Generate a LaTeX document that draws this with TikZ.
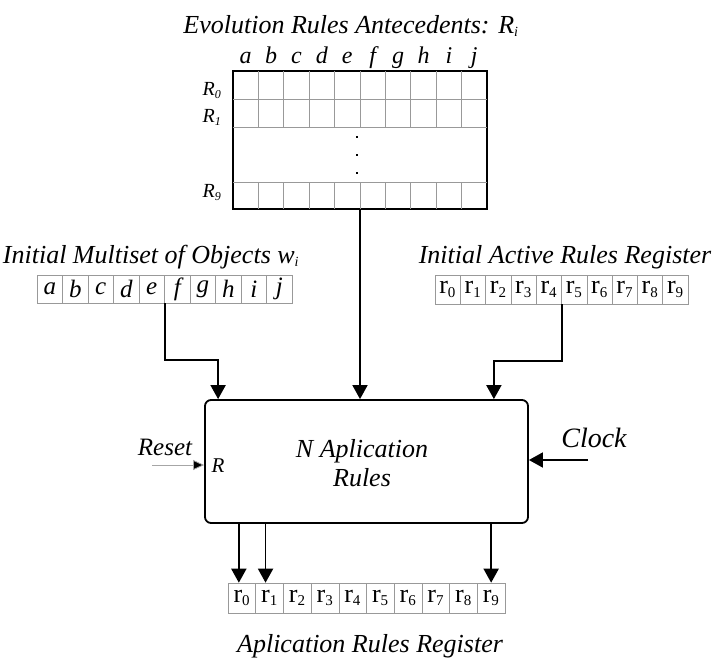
\documentclass[tikz,border=0pt]{standalone}
\usepackage{fontspec}
\setmainfont{Liberation Serif}
\usetikzlibrary{arrows.meta,calc}
\newcommand{\rsub}[1]{r\textsubscript{\fontsize{15}{15}\selectfont #1}}
\begin{document}
\begin{tikzpicture}[x=1pt,y=-1pt,
  ttl/.style={font=\fontsize{26}{30}\selectfont\itshape, anchor=base, inner sep=0pt},
  lbl/.style={font=\fontsize{24}{26}\selectfont\itshape, anchor=base, inner sep=0pt},
  rowl/.style={font=\fontsize{20}{22}\selectfont\itshape, anchor=base, inner sep=0pt},
  lcell/.style={draw=gray!80, line width=0.6pt, minimum width=25.5pt, minimum height=28pt, inner sep=0pt, font=\fontsize{25}{27}\selectfont\itshape},
  rcell/.style={draw=gray!80, line width=0.6pt, minimum width=25.3pt, minimum height=29pt, inner sep=0pt, font=\fontsize{26}{28}\selectfont},
  ocell/.style={draw=gray!80, line width=0.6pt, minimum width=27.7pt, minimum height=30pt, inner sep=0pt, font=\fontsize{26}{28}\selectfont},
  arr/.style={line width=1.8pt, -{Triangle[length=14pt,width=15pt]}},
  thinarr/.style={line width=0.8pt, gray!70, -{Triangle[length=11pt,width=10pt,fill=black]}}
]
\useasboundingbox (0,0) rectangle (721,659);

% ---- top grid ----
\node[ttl] (t1) at (351,33) {Evolution Rules Antecedents: R\textsubscript{\fontsize{14}{14}\selectfont i}};
\node[draw, line width=1.8pt, minimum width=254pt, minimum height=138pt, inner sep=0pt] (ant) at (360,140) {};
\foreach \k/\c in {0/a,1/b,2/c,3/d,4/e,5/f,6/g,7/h,8/i,9/j}{
  \node[lbl] (cl\k) at (245.7+25.4*\k,63) {\c};
}
\foreach \k in {1,...,9}{
  \draw[gray!80, line width=0.7pt] (233+25.4*\k,71) -- (233+25.4*\k,127);
  \draw[gray!80, line width=0.7pt] (233+25.4*\k,182) -- (233+25.4*\k,209);
}
\foreach \yy in {99,127,182}{
  \draw[gray!80, line width=0.7pt] (233,\yy) -- (487,\yy);
}
\node[rowl] (r0l) at (212,95) {R\textsubscript{\fontsize{12}{12}\selectfont 0}};
\node[rowl] (r1l) at (212,122) {R\textsubscript{\fontsize{12}{12}\selectfont 1}};
\node[rowl] (r9l) at (212,197) {R\textsubscript{\fontsize{12}{12}\selectfont 9}};
\foreach \yy in {137,155,173}{
  \fill (357-1.4,\yy-1.4) rectangle (357+1.4,\yy+1.4);
}

% ---- left register ----
\node[ttl] (t2) at (151,263) {Initial Multiset of Objects w\textsubscript{\fontsize{14}{14}\selectfont i}};
\foreach \k/\c in {0/a,1/b,2/c,3/d,4/e,5/f,6/g,7/h,8/i,9/j}{
  \node[lcell] (m\k) at (49.75+25.5*\k,289) {\c};
}

% ---- right register ----
\node[ttl] (t3) at (565,263) {Initial Active Rules Register};
\foreach \k in {0,...,9}{
  \node[rcell] (a\k) at (447.65+25.3*\k,289.5) {\rsub{\k}};
}

% ---- main box ----
\node[draw, line width=1.8pt, rounded corners=6pt, minimum width=323pt, minimum height=123pt, inner sep=0pt] (nar) at (366.5,461.5) {};
\node[ttl] (n1) at (362,457) {N Aplication};
\node[ttl] (n2) at (362,486) {Rules};
\node[font=\fontsize{21}{24}\selectfont\itshape, anchor=base, inner sep=0pt] (rr) at (218,472) {R};
\node[font=\fontsize{25}{28}\selectfont\itshape, anchor=base, inner sep=0pt] (reset) at (165,455) {Reset};
\node[font=\fontsize{28}{30}\selectfont\itshape, anchor=base, inner sep=0pt] (clock) at (594,447) {Clock};
\coordinate (rs) at (152,465);
\coordinate (ck) at (588,460);

% ---- bottom register ----
\foreach \k in {0,...,9}{
  \node[ocell] (o\k) at (241.85+27.7*\k,598) {\rsub{\k}};
}
\node[ttl] (t4) at (370,652) {Aplication Rules Register};

% ---- connectors ----
\draw[arr] (m4.south east) -- ++(0,57) -| ([xshift=14pt]nar.north west);
\draw[arr] (ant.south) -- (ant.south |- nar.north);
\draw[arr] (a4.south east) -- ++(0,57) -| ([xshift=-35pt]nar.north east);
\draw[thinarr] (rs) -- (rs -| nar.west);
\draw[arr] (ck) -- (ck -| nar.east);
\draw[arr] ([xshift=-3pt]o0.north |- nar.south) -- ([xshift=-3pt]o0.north);
\draw[arr] ([xshift=-4pt]o1.north |- nar.south) -- ([xshift=-4pt]o1.north);
\draw[arr] (o9.north |- nar.south) -- (o9.north);
\end{tikzpicture}
\end{document}
